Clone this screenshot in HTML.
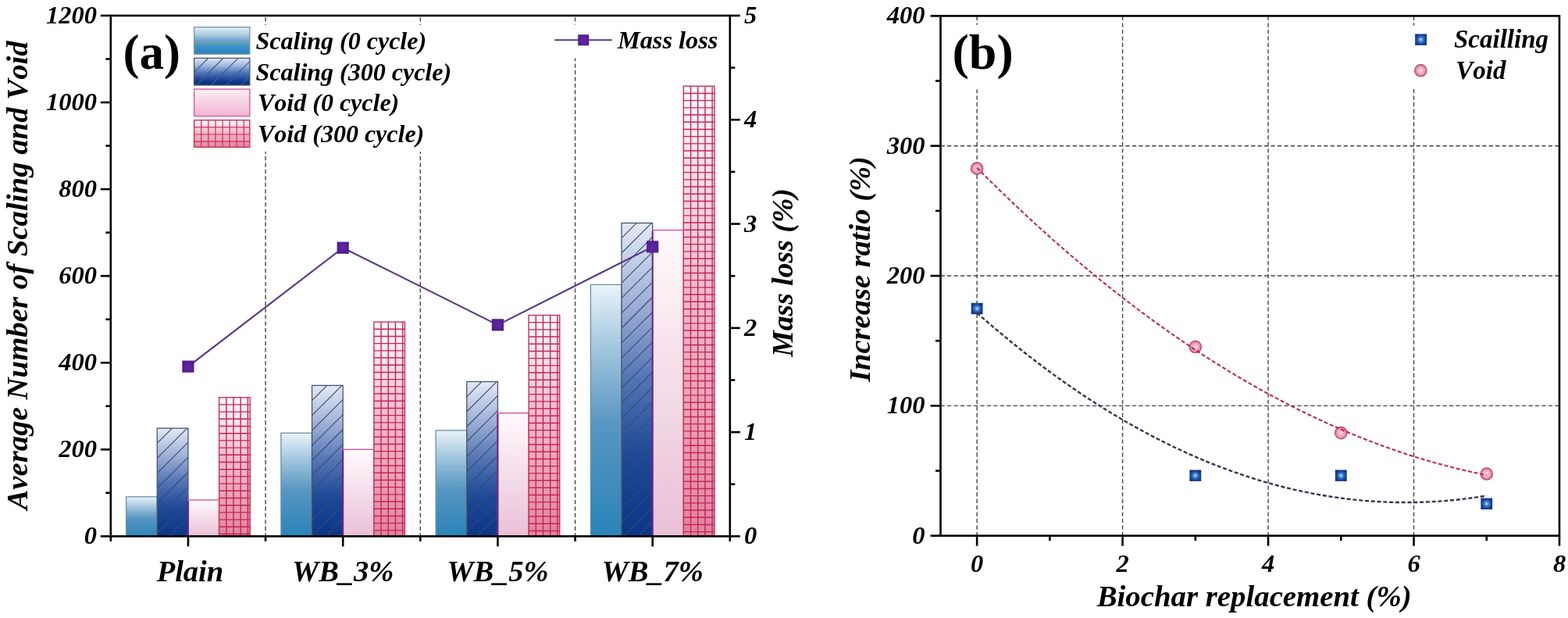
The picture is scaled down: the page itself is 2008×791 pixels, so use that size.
<!DOCTYPE html>
<html><head><meta charset="utf-8"><title>Figure</title>
<style>html,body{margin:0;padding:0;background:#fff;}svg{display:block;}text{font-kerning:none;}</style>
</head><body>
<svg width="2008" height="791" viewBox="0 0 2008 791">
<defs>
<linearGradient id="gS0" x1="0" y1="0" x2="0" y2="1">
<stop offset="0" stop-color="#eaf3fa"/><stop offset="0.25" stop-color="#a2c7de"/><stop offset="0.55" stop-color="#5896c2"/><stop offset="1" stop-color="#2a84b8"/></linearGradient>
<linearGradient id="gS0L" x1="0" y1="0" x2="0" y2="1">
<stop offset="0" stop-color="#e2f1fb"/><stop offset="0.3" stop-color="#a9c9dc"/><stop offset="0.5" stop-color="#6ea2d0"/><stop offset="0.62" stop-color="#5a9aa8"/><stop offset="0.72" stop-color="#3a93d0"/><stop offset="1" stop-color="#2a80b4"/></linearGradient>
<linearGradient id="gS3" x1="0" y1="0" x2="0" y2="1">
<stop offset="0" stop-color="#e4eaf5"/><stop offset="0.25" stop-color="#9fb1d8"/><stop offset="0.5" stop-color="#5274b4"/><stop offset="0.75" stop-color="#1c4897"/><stop offset="1" stop-color="#0a3686"/></linearGradient>
<linearGradient id="gS3L" x1="0" y1="0" x2="0" y2="1">
<stop offset="0" stop-color="#dfe8f6"/><stop offset="0.25" stop-color="#a8bde0"/><stop offset="0.55" stop-color="#4c74b6"/><stop offset="0.85" stop-color="#0e3c92"/><stop offset="1" stop-color="#062c6c"/></linearGradient>
<linearGradient id="gV0" x1="0" y1="0" x2="0" y2="1">
<stop offset="0" stop-color="#fffafc"/><stop offset="1" stop-color="#e9c0d6"/></linearGradient>
<linearGradient id="gV0L" x1="0" y1="0" x2="0" y2="1">
<stop offset="0" stop-color="#fdeef4"/><stop offset="1" stop-color="#f0b4d2"/></linearGradient>
<linearGradient id="gV3" x1="0" y1="0" x2="0" y2="1">
<stop offset="0" stop-color="#fef8fa"/><stop offset="0.2" stop-color="#f9dfe7"/><stop offset="0.45" stop-color="#f2bacb"/><stop offset="0.75" stop-color="#ea9fb4"/><stop offset="1" stop-color="#e2839f"/></linearGradient>
<radialGradient id="gSq" cx="0.5" cy="0.5" r="0.62">
<stop offset="0" stop-color="#d2ecff"/><stop offset="0.25" stop-color="#4d8ee0"/><stop offset="0.6" stop-color="#1a4aa0"/><stop offset="1" stop-color="#0a2a72"/></radialGradient>
<radialGradient id="gCi" cx="0.5" cy="0.5" r="0.5">
<stop offset="0" stop-color="#f6dbe4"/><stop offset="0.55" stop-color="#f0a8bf"/><stop offset="1" stop-color="#d76f93"/></radialGradient>
<radialGradient id="gML" cx="0.5" cy="0.5" r="0.6">
<stop offset="0" stop-color="#6428a6"/><stop offset="1" stop-color="#4e1c8a"/></radialGradient>
</defs>
<rect width="2008" height="791" fill="#ffffff"/>
<line x1="340.05" y1="22.3" x2="340.05" y2="686.4" stroke="#444" stroke-width="1.4" stroke-dasharray="5.3 3.16"/>
<line x1="538.30" y1="22.3" x2="538.30" y2="686.4" stroke="#444" stroke-width="1.4" stroke-dasharray="5.3 3.16"/>
<line x1="736.55" y1="22.3" x2="736.55" y2="686.4" stroke="#444" stroke-width="1.4" stroke-dasharray="5.3 3.16"/>
<rect x="161.62" y="635.86" width="39.65" height="50.54" fill="url(#gS0)" stroke="#6a90aa" stroke-width="1.3"/>
<rect x="201.28" y="548.12" width="39.65" height="138.28" fill="url(#gS3)"/>
<clipPath id="cS30"><rect x="201.28" y="548.12" width="39.65" height="138.28"/></clipPath>
<g clip-path="url(#cS30)" stroke="#3a4a72" stroke-width="1.1">
<line x1="206.28" y1="543.12" x2="53.00" y2="696.40"/>
<line x1="225.47" y1="543.12" x2="72.20" y2="696.40"/>
<line x1="244.68" y1="543.12" x2="91.40" y2="696.40"/>
<line x1="263.88" y1="543.12" x2="110.60" y2="696.40"/>
<line x1="283.07" y1="543.12" x2="129.80" y2="696.40"/>
<line x1="302.27" y1="543.12" x2="149.00" y2="696.40"/>
<line x1="321.48" y1="543.12" x2="168.20" y2="696.40"/>
<line x1="340.68" y1="543.12" x2="187.40" y2="696.40"/>
<line x1="359.88" y1="543.12" x2="206.60" y2="696.40"/>
<line x1="379.07" y1="543.12" x2="225.80" y2="696.40"/>
<line x1="398.27" y1="543.12" x2="245.00" y2="696.40"/>
</g>
<rect x="201.28" y="548.12" width="39.65" height="138.28" fill="none" stroke="#4b5466" stroke-width="1.3"/>
<rect x="240.93" y="639.97" width="39.65" height="46.43" fill="url(#gV0)" stroke="#d8489a" stroke-width="1.3"/>
<line x1="240.93" y1="640.97" x2="240.93" y2="686.4" stroke="#6e2284" stroke-width="2"/>
<rect x="280.58" y="508.69" width="39.65" height="177.71" fill="url(#gV3)"/>
<g stroke="#c42458" stroke-width="1.4">
<line x1="289.78" y1="508.69" x2="289.78" y2="686.4"/>
<line x1="298.98" y1="508.69" x2="298.98" y2="686.4"/>
<line x1="308.18" y1="508.69" x2="308.18" y2="686.4"/>
<line x1="317.38" y1="508.69" x2="317.38" y2="686.4"/>
<line x1="280.58" y1="517.89" x2="320.23" y2="517.89"/>
<line x1="280.58" y1="527.09" x2="320.23" y2="527.09"/>
<line x1="280.58" y1="536.29" x2="320.23" y2="536.29"/>
<line x1="280.58" y1="545.49" x2="320.23" y2="545.49"/>
<line x1="280.58" y1="554.69" x2="320.23" y2="554.69"/>
<line x1="280.58" y1="563.89" x2="320.23" y2="563.89"/>
<line x1="280.58" y1="573.09" x2="320.23" y2="573.09"/>
<line x1="280.58" y1="582.29" x2="320.23" y2="582.29"/>
<line x1="280.58" y1="591.49" x2="320.23" y2="591.49"/>
<line x1="280.58" y1="600.69" x2="320.23" y2="600.69"/>
<line x1="280.58" y1="609.89" x2="320.23" y2="609.89"/>
<line x1="280.58" y1="619.09" x2="320.23" y2="619.09"/>
<line x1="280.58" y1="628.29" x2="320.23" y2="628.29"/>
<line x1="280.58" y1="637.49" x2="320.23" y2="637.49"/>
<line x1="280.58" y1="646.69" x2="320.23" y2="646.69"/>
<line x1="280.58" y1="655.89" x2="320.23" y2="655.89"/>
<line x1="280.58" y1="665.09" x2="320.23" y2="665.09"/>
<line x1="280.58" y1="674.29" x2="320.23" y2="674.29"/>
<line x1="280.58" y1="683.49" x2="320.23" y2="683.49"/>
</g>
<rect x="280.58" y="508.69" width="39.65" height="177.71" fill="none" stroke="#c8305c" stroke-width="1.4"/>
<rect x="359.88" y="554.23" width="39.65" height="132.17" fill="url(#gS0)" stroke="#6a90aa" stroke-width="1.3"/>
<rect x="399.52" y="493.37" width="39.65" height="193.03" fill="url(#gS3)"/>
<clipPath id="cS31"><rect x="399.52" y="493.37" width="39.65" height="193.03"/></clipPath>
<g clip-path="url(#cS31)" stroke="#3a4a72" stroke-width="1.1">
<line x1="404.52" y1="488.37" x2="196.49" y2="696.40"/>
<line x1="423.72" y1="488.37" x2="215.69" y2="696.40"/>
<line x1="442.92" y1="488.37" x2="234.89" y2="696.40"/>
<line x1="462.12" y1="488.37" x2="254.09" y2="696.40"/>
<line x1="481.32" y1="488.37" x2="273.29" y2="696.40"/>
<line x1="500.52" y1="488.37" x2="292.49" y2="696.40"/>
<line x1="519.72" y1="488.37" x2="311.69" y2="696.40"/>
<line x1="538.92" y1="488.37" x2="330.89" y2="696.40"/>
<line x1="558.12" y1="488.37" x2="350.09" y2="696.40"/>
<line x1="577.32" y1="488.37" x2="369.29" y2="696.40"/>
<line x1="596.52" y1="488.37" x2="388.49" y2="696.40"/>
<line x1="615.72" y1="488.37" x2="407.69" y2="696.40"/>
<line x1="634.92" y1="488.37" x2="426.89" y2="696.40"/>
<line x1="654.12" y1="488.37" x2="446.09" y2="696.40"/>
</g>
<rect x="399.52" y="493.37" width="39.65" height="193.03" fill="none" stroke="#4b5466" stroke-width="1.3"/>
<rect x="439.18" y="575.33" width="39.65" height="111.07" fill="url(#gV0)" stroke="#d8489a" stroke-width="1.3"/>
<line x1="439.18" y1="576.33" x2="439.18" y2="686.4" stroke="#6e2284" stroke-width="2"/>
<rect x="478.83" y="412.07" width="39.65" height="274.33" fill="url(#gV3)"/>
<g stroke="#c42458" stroke-width="1.4">
<line x1="488.03" y1="412.07" x2="488.03" y2="686.4"/>
<line x1="497.23" y1="412.07" x2="497.23" y2="686.4"/>
<line x1="506.43" y1="412.07" x2="506.43" y2="686.4"/>
<line x1="515.62" y1="412.07" x2="515.62" y2="686.4"/>
<line x1="478.83" y1="421.27" x2="518.48" y2="421.27"/>
<line x1="478.83" y1="430.47" x2="518.48" y2="430.47"/>
<line x1="478.83" y1="439.67" x2="518.48" y2="439.67"/>
<line x1="478.83" y1="448.87" x2="518.48" y2="448.87"/>
<line x1="478.83" y1="458.07" x2="518.48" y2="458.07"/>
<line x1="478.83" y1="467.27" x2="518.48" y2="467.27"/>
<line x1="478.83" y1="476.47" x2="518.48" y2="476.47"/>
<line x1="478.83" y1="485.67" x2="518.48" y2="485.67"/>
<line x1="478.83" y1="494.87" x2="518.48" y2="494.87"/>
<line x1="478.83" y1="504.07" x2="518.48" y2="504.07"/>
<line x1="478.83" y1="513.27" x2="518.48" y2="513.27"/>
<line x1="478.83" y1="522.47" x2="518.48" y2="522.47"/>
<line x1="478.83" y1="531.67" x2="518.48" y2="531.67"/>
<line x1="478.83" y1="540.87" x2="518.48" y2="540.87"/>
<line x1="478.83" y1="550.07" x2="518.48" y2="550.07"/>
<line x1="478.83" y1="559.27" x2="518.48" y2="559.27"/>
<line x1="478.83" y1="568.47" x2="518.48" y2="568.47"/>
<line x1="478.83" y1="577.67" x2="518.48" y2="577.67"/>
<line x1="478.83" y1="586.87" x2="518.48" y2="586.87"/>
<line x1="478.83" y1="596.07" x2="518.48" y2="596.07"/>
<line x1="478.83" y1="605.27" x2="518.48" y2="605.27"/>
<line x1="478.83" y1="614.47" x2="518.48" y2="614.47"/>
<line x1="478.83" y1="623.67" x2="518.48" y2="623.67"/>
<line x1="478.83" y1="632.87" x2="518.48" y2="632.87"/>
<line x1="478.83" y1="642.07" x2="518.48" y2="642.07"/>
<line x1="478.83" y1="651.27" x2="518.48" y2="651.27"/>
<line x1="478.83" y1="660.47" x2="518.48" y2="660.47"/>
<line x1="478.83" y1="669.67" x2="518.48" y2="669.67"/>
<line x1="478.83" y1="678.87" x2="518.48" y2="678.87"/>
</g>
<rect x="478.83" y="412.07" width="39.65" height="274.33" fill="none" stroke="#c8305c" stroke-width="1.4"/>
<rect x="558.12" y="550.90" width="39.65" height="135.50" fill="url(#gS0)" stroke="#6a90aa" stroke-width="1.3"/>
<rect x="597.77" y="488.48" width="39.65" height="197.92" fill="url(#gS3)"/>
<clipPath id="cS32"><rect x="597.77" y="488.48" width="39.65" height="197.92"/></clipPath>
<g clip-path="url(#cS32)" stroke="#3a4a72" stroke-width="1.1">
<line x1="602.77" y1="483.48" x2="389.85" y2="696.40"/>
<line x1="621.98" y1="483.48" x2="409.05" y2="696.40"/>
<line x1="641.17" y1="483.48" x2="428.25" y2="696.40"/>
<line x1="660.38" y1="483.48" x2="447.45" y2="696.40"/>
<line x1="679.57" y1="483.48" x2="466.65" y2="696.40"/>
<line x1="698.77" y1="483.48" x2="485.85" y2="696.40"/>
<line x1="717.97" y1="483.48" x2="505.05" y2="696.40"/>
<line x1="737.17" y1="483.48" x2="524.25" y2="696.40"/>
<line x1="756.38" y1="483.48" x2="543.45" y2="696.40"/>
<line x1="775.57" y1="483.48" x2="562.65" y2="696.40"/>
<line x1="794.77" y1="483.48" x2="581.85" y2="696.40"/>
<line x1="813.97" y1="483.48" x2="601.05" y2="696.40"/>
<line x1="833.17" y1="483.48" x2="620.25" y2="696.40"/>
<line x1="852.38" y1="483.48" x2="639.45" y2="696.40"/>
</g>
<rect x="597.77" y="488.48" width="39.65" height="197.92" fill="none" stroke="#4b5466" stroke-width="1.3"/>
<rect x="637.42" y="528.69" width="39.65" height="157.71" fill="url(#gV0)" stroke="#d8489a" stroke-width="1.3"/>
<line x1="637.42" y1="529.69" x2="637.42" y2="686.4" stroke="#6e2284" stroke-width="2"/>
<rect x="677.08" y="403.46" width="39.65" height="282.94" fill="url(#gV3)"/>
<g stroke="#c42458" stroke-width="1.4">
<line x1="686.28" y1="403.46" x2="686.28" y2="686.4"/>
<line x1="695.48" y1="403.46" x2="695.48" y2="686.4"/>
<line x1="704.68" y1="403.46" x2="704.68" y2="686.4"/>
<line x1="713.88" y1="403.46" x2="713.88" y2="686.4"/>
<line x1="677.08" y1="412.66" x2="716.73" y2="412.66"/>
<line x1="677.08" y1="421.86" x2="716.73" y2="421.86"/>
<line x1="677.08" y1="431.06" x2="716.73" y2="431.06"/>
<line x1="677.08" y1="440.26" x2="716.73" y2="440.26"/>
<line x1="677.08" y1="449.46" x2="716.73" y2="449.46"/>
<line x1="677.08" y1="458.66" x2="716.73" y2="458.66"/>
<line x1="677.08" y1="467.86" x2="716.73" y2="467.86"/>
<line x1="677.08" y1="477.06" x2="716.73" y2="477.06"/>
<line x1="677.08" y1="486.26" x2="716.73" y2="486.26"/>
<line x1="677.08" y1="495.46" x2="716.73" y2="495.46"/>
<line x1="677.08" y1="504.66" x2="716.73" y2="504.66"/>
<line x1="677.08" y1="513.86" x2="716.73" y2="513.86"/>
<line x1="677.08" y1="523.06" x2="716.73" y2="523.06"/>
<line x1="677.08" y1="532.26" x2="716.73" y2="532.26"/>
<line x1="677.08" y1="541.46" x2="716.73" y2="541.46"/>
<line x1="677.08" y1="550.66" x2="716.73" y2="550.66"/>
<line x1="677.08" y1="559.86" x2="716.73" y2="559.86"/>
<line x1="677.08" y1="569.06" x2="716.73" y2="569.06"/>
<line x1="677.08" y1="578.26" x2="716.73" y2="578.26"/>
<line x1="677.08" y1="587.46" x2="716.73" y2="587.46"/>
<line x1="677.08" y1="596.66" x2="716.73" y2="596.66"/>
<line x1="677.08" y1="605.86" x2="716.73" y2="605.86"/>
<line x1="677.08" y1="615.06" x2="716.73" y2="615.06"/>
<line x1="677.08" y1="624.26" x2="716.73" y2="624.26"/>
<line x1="677.08" y1="633.46" x2="716.73" y2="633.46"/>
<line x1="677.08" y1="642.66" x2="716.73" y2="642.66"/>
<line x1="677.08" y1="651.86" x2="716.73" y2="651.86"/>
<line x1="677.08" y1="661.06" x2="716.73" y2="661.06"/>
<line x1="677.08" y1="670.26" x2="716.73" y2="670.26"/>
<line x1="677.08" y1="679.46" x2="716.73" y2="679.46"/>
</g>
<rect x="677.08" y="403.46" width="39.65" height="282.94" fill="none" stroke="#c8305c" stroke-width="1.4"/>
<rect x="756.38" y="364.31" width="39.65" height="322.09" fill="url(#gS0)" stroke="#6a90aa" stroke-width="1.3"/>
<rect x="796.02" y="285.45" width="39.65" height="400.95" fill="url(#gS3)"/>
<clipPath id="cS33"><rect x="796.02" y="285.45" width="39.65" height="400.95"/></clipPath>
<g clip-path="url(#cS33)" stroke="#3a4a72" stroke-width="1.1">
<line x1="801.02" y1="280.45" x2="385.07" y2="696.40"/>
<line x1="820.23" y1="280.45" x2="404.27" y2="696.40"/>
<line x1="839.42" y1="280.45" x2="423.47" y2="696.40"/>
<line x1="858.62" y1="280.45" x2="442.67" y2="696.40"/>
<line x1="877.82" y1="280.45" x2="461.87" y2="696.40"/>
<line x1="897.02" y1="280.45" x2="481.07" y2="696.40"/>
<line x1="916.22" y1="280.45" x2="500.27" y2="696.40"/>
<line x1="935.42" y1="280.45" x2="519.47" y2="696.40"/>
<line x1="954.62" y1="280.45" x2="538.67" y2="696.40"/>
<line x1="973.82" y1="280.45" x2="557.87" y2="696.40"/>
<line x1="993.02" y1="280.45" x2="577.07" y2="696.40"/>
<line x1="1012.22" y1="280.45" x2="596.27" y2="696.40"/>
<line x1="1031.42" y1="280.45" x2="615.47" y2="696.40"/>
<line x1="1050.62" y1="280.45" x2="634.67" y2="696.40"/>
<line x1="1069.83" y1="280.45" x2="653.87" y2="696.40"/>
<line x1="1089.03" y1="280.45" x2="673.07" y2="696.40"/>
<line x1="1108.22" y1="280.45" x2="692.27" y2="696.40"/>
<line x1="1127.42" y1="280.45" x2="711.47" y2="696.40"/>
<line x1="1146.62" y1="280.45" x2="730.67" y2="696.40"/>
<line x1="1165.83" y1="280.45" x2="749.87" y2="696.40"/>
<line x1="1185.03" y1="280.45" x2="769.07" y2="696.40"/>
<line x1="1204.22" y1="280.45" x2="788.27" y2="696.40"/>
<line x1="1223.42" y1="280.45" x2="807.47" y2="696.40"/>
<line x1="1242.62" y1="280.45" x2="826.67" y2="696.40"/>
</g>
<rect x="796.02" y="285.45" width="39.65" height="400.95" fill="none" stroke="#4b5466" stroke-width="1.3"/>
<rect x="835.67" y="294.61" width="39.65" height="391.79" fill="url(#gV0)" stroke="#d8489a" stroke-width="1.3"/>
<line x1="835.67" y1="295.61" x2="835.67" y2="686.4" stroke="#6e2284" stroke-width="2"/>
<rect x="875.33" y="110.24" width="39.65" height="576.16" fill="url(#gV3)"/>
<g stroke="#c42458" stroke-width="1.4">
<line x1="884.53" y1="110.24" x2="884.53" y2="686.4"/>
<line x1="893.73" y1="110.24" x2="893.73" y2="686.4"/>
<line x1="902.93" y1="110.24" x2="902.93" y2="686.4"/>
<line x1="912.13" y1="110.24" x2="912.13" y2="686.4"/>
<line x1="875.33" y1="119.44" x2="914.98" y2="119.44"/>
<line x1="875.33" y1="128.64" x2="914.98" y2="128.64"/>
<line x1="875.33" y1="137.84" x2="914.98" y2="137.84"/>
<line x1="875.33" y1="147.04" x2="914.98" y2="147.04"/>
<line x1="875.33" y1="156.24" x2="914.98" y2="156.24"/>
<line x1="875.33" y1="165.44" x2="914.98" y2="165.44"/>
<line x1="875.33" y1="174.64" x2="914.98" y2="174.64"/>
<line x1="875.33" y1="183.84" x2="914.98" y2="183.84"/>
<line x1="875.33" y1="193.04" x2="914.98" y2="193.04"/>
<line x1="875.33" y1="202.24" x2="914.98" y2="202.24"/>
<line x1="875.33" y1="211.44" x2="914.98" y2="211.44"/>
<line x1="875.33" y1="220.64" x2="914.98" y2="220.64"/>
<line x1="875.33" y1="229.84" x2="914.98" y2="229.84"/>
<line x1="875.33" y1="239.04" x2="914.98" y2="239.04"/>
<line x1="875.33" y1="248.24" x2="914.98" y2="248.24"/>
<line x1="875.33" y1="257.44" x2="914.98" y2="257.44"/>
<line x1="875.33" y1="266.64" x2="914.98" y2="266.64"/>
<line x1="875.33" y1="275.84" x2="914.98" y2="275.84"/>
<line x1="875.33" y1="285.04" x2="914.98" y2="285.04"/>
<line x1="875.33" y1="294.24" x2="914.98" y2="294.24"/>
<line x1="875.33" y1="303.44" x2="914.98" y2="303.44"/>
<line x1="875.33" y1="312.64" x2="914.98" y2="312.64"/>
<line x1="875.33" y1="321.84" x2="914.98" y2="321.84"/>
<line x1="875.33" y1="331.04" x2="914.98" y2="331.04"/>
<line x1="875.33" y1="340.24" x2="914.98" y2="340.24"/>
<line x1="875.33" y1="349.44" x2="914.98" y2="349.44"/>
<line x1="875.33" y1="358.64" x2="914.98" y2="358.64"/>
<line x1="875.33" y1="367.84" x2="914.98" y2="367.84"/>
<line x1="875.33" y1="377.04" x2="914.98" y2="377.04"/>
<line x1="875.33" y1="386.24" x2="914.98" y2="386.24"/>
<line x1="875.33" y1="395.44" x2="914.98" y2="395.44"/>
<line x1="875.33" y1="404.64" x2="914.98" y2="404.64"/>
<line x1="875.33" y1="413.84" x2="914.98" y2="413.84"/>
<line x1="875.33" y1="423.04" x2="914.98" y2="423.04"/>
<line x1="875.33" y1="432.24" x2="914.98" y2="432.24"/>
<line x1="875.33" y1="441.44" x2="914.98" y2="441.44"/>
<line x1="875.33" y1="450.64" x2="914.98" y2="450.64"/>
<line x1="875.33" y1="459.84" x2="914.98" y2="459.84"/>
<line x1="875.33" y1="469.04" x2="914.98" y2="469.04"/>
<line x1="875.33" y1="478.24" x2="914.98" y2="478.24"/>
<line x1="875.33" y1="487.44" x2="914.98" y2="487.44"/>
<line x1="875.33" y1="496.64" x2="914.98" y2="496.64"/>
<line x1="875.33" y1="505.84" x2="914.98" y2="505.84"/>
<line x1="875.33" y1="515.04" x2="914.98" y2="515.04"/>
<line x1="875.33" y1="524.24" x2="914.98" y2="524.24"/>
<line x1="875.33" y1="533.44" x2="914.98" y2="533.44"/>
<line x1="875.33" y1="542.64" x2="914.98" y2="542.64"/>
<line x1="875.33" y1="551.84" x2="914.98" y2="551.84"/>
<line x1="875.33" y1="561.04" x2="914.98" y2="561.04"/>
<line x1="875.33" y1="570.24" x2="914.98" y2="570.24"/>
<line x1="875.33" y1="579.44" x2="914.98" y2="579.44"/>
<line x1="875.33" y1="588.64" x2="914.98" y2="588.64"/>
<line x1="875.33" y1="597.84" x2="914.98" y2="597.84"/>
<line x1="875.33" y1="607.04" x2="914.98" y2="607.04"/>
<line x1="875.33" y1="616.24" x2="914.98" y2="616.24"/>
<line x1="875.33" y1="625.44" x2="914.98" y2="625.44"/>
<line x1="875.33" y1="634.64" x2="914.98" y2="634.64"/>
<line x1="875.33" y1="643.84" x2="914.98" y2="643.84"/>
<line x1="875.33" y1="653.04" x2="914.98" y2="653.04"/>
<line x1="875.33" y1="662.24" x2="914.98" y2="662.24"/>
<line x1="875.33" y1="671.44" x2="914.98" y2="671.44"/>
<line x1="875.33" y1="680.64" x2="914.98" y2="680.64"/>
</g>
<rect x="875.33" y="110.24" width="39.65" height="576.16" fill="none" stroke="#c8305c" stroke-width="1.4"/>
<polyline points="240.93,469.15 439.18,317.21 637.42,415.84 835.67,315.88" fill="none" stroke="#573686" stroke-width="2.1"/>
<rect x="233.33" y="461.55" width="15.2" height="15.2" fill="url(#gML)"/>
<rect x="431.57" y="309.61" width="15.2" height="15.2" fill="url(#gML)"/>
<rect x="629.82" y="408.24" width="15.2" height="15.2" fill="url(#gML)"/>
<rect x="828.07" y="308.28" width="15.2" height="15.2" fill="url(#gML)"/>
<rect x="245" y="32" width="340" height="162" fill="#fff"/>
<rect x="700" y="31.5" width="225" height="43" fill="#fff"/>
<rect x="248.6" y="34.70" width="71.2" height="34.6" fill="url(#gS0L)" stroke="#7f98ab" stroke-width="1.4"/>
<text x="327.5" y="62.90" font-size="32" font-family="Liberation Serif, Times New Roman, serif" font-weight="bold" font-style="italic">Scaling (0 cycle)</text>
<rect x="248.6" y="74.40" width="71.2" height="34.6" fill="url(#gS3L)"/>
<clipPath id="cL1"><rect x="248.6" y="74.40" width="71.2" height="34.6"/></clipPath>
<g clip-path="url(#cL1)" stroke="#4a5a84" stroke-width="1.2">
<line x1="252.70" y1="69.40" x2="203.10" y2="119.00"/>
<line x1="271.80" y1="69.40" x2="222.20" y2="119.00"/>
<line x1="290.90" y1="69.40" x2="241.30" y2="119.00"/>
<line x1="310.00" y1="69.40" x2="260.40" y2="119.00"/>
<line x1="329.10" y1="69.40" x2="279.50" y2="119.00"/>
<line x1="348.20" y1="69.40" x2="298.60" y2="119.00"/>
<line x1="367.30" y1="69.40" x2="317.70" y2="119.00"/>
<line x1="386.40" y1="69.40" x2="336.80" y2="119.00"/>
</g>
<rect x="248.6" y="74.40" width="71.2" height="34.6" fill="none" stroke="#4b5466" stroke-width="1.3"/>
<text x="327.5" y="102.50" font-size="32" font-family="Liberation Serif, Times New Roman, serif" font-weight="bold" font-style="italic">Scaling (300 cycle)</text>
<rect x="248.6" y="114.10" width="71.2" height="34.6" fill="url(#gV0L)" stroke="#d4609a" stroke-width="1.4"/>
<text x="330.0" y="142.10" font-size="32" font-family="Liberation Serif, Times New Roman, serif" font-weight="bold" font-style="italic">Void (0 cycle)</text>
<rect x="248.6" y="153.80" width="71.2" height="34.6" fill="url(#gV3)"/>
<g stroke="#cf2c5c" stroke-width="1.2">
<line x1="257.70" y1="153.80" x2="257.70" y2="188.40"/>
<line x1="266.80" y1="153.80" x2="266.80" y2="188.40"/>
<line x1="275.90" y1="153.80" x2="275.90" y2="188.40"/>
<line x1="285.00" y1="153.80" x2="285.00" y2="188.40"/>
<line x1="294.10" y1="153.80" x2="294.10" y2="188.40"/>
<line x1="303.20" y1="153.80" x2="303.20" y2="188.40"/>
<line x1="312.30" y1="153.80" x2="312.30" y2="188.40"/>
<line x1="248.6" y1="162.90" x2="319.80" y2="162.90"/>
<line x1="248.6" y1="172.00" x2="319.80" y2="172.00"/>
<line x1="248.6" y1="181.10" x2="319.80" y2="181.10"/>
</g>
<rect x="248.6" y="153.80" width="71.2" height="34.6" fill="none" stroke="#c8305c" stroke-width="1.4"/>
<text x="330.0" y="181.70" font-size="32" font-family="Liberation Serif, Times New Roman, serif" font-weight="bold" font-style="italic">Void (300 cycle)</text>
<line x1="710.2" y1="51.3" x2="783.8" y2="51.3" stroke="#573686" stroke-width="2.1"/>
<rect x="740.2" y="44.3" width="14" height="14" fill="url(#gML)"/>
<text x="791" y="61.8" font-size="32.3" font-family="Liberation Serif, Times New Roman, serif" font-weight="bold" font-style="italic">Mass loss</text>
<text x="157.5" y="87.6" font-size="63" font-family="Liberation Serif, Times New Roman, serif" font-weight="bold">(a)</text>
<rect x="141.8" y="20.0" width="793.0" height="666.4" stroke="#000" stroke-width="2.6" fill="none"/>
<line x1="128.80" y1="686.40" x2="141.8" y2="686.40" stroke="#000" stroke-width="2.6" fill="none"/>
<text x="124" y="696.40" font-size="32.5" text-anchor="end" font-family="Liberation Serif, Times New Roman, serif" font-weight="bold" font-style="italic">0</text>
<line x1="135.30" y1="630.87" x2="141.8" y2="630.87" stroke="#000" stroke-width="2.6" fill="none"/>
<line x1="128.80" y1="575.33" x2="141.8" y2="575.33" stroke="#000" stroke-width="2.6" fill="none"/>
<text x="124" y="585.33" font-size="32.5" text-anchor="end" font-family="Liberation Serif, Times New Roman, serif" font-weight="bold" font-style="italic">200</text>
<line x1="135.30" y1="519.80" x2="141.8" y2="519.80" stroke="#000" stroke-width="2.6" fill="none"/>
<line x1="128.80" y1="464.27" x2="141.8" y2="464.27" stroke="#000" stroke-width="2.6" fill="none"/>
<text x="124" y="474.27" font-size="32.5" text-anchor="end" font-family="Liberation Serif, Times New Roman, serif" font-weight="bold" font-style="italic">400</text>
<line x1="135.30" y1="408.73" x2="141.8" y2="408.73" stroke="#000" stroke-width="2.6" fill="none"/>
<line x1="128.80" y1="353.20" x2="141.8" y2="353.20" stroke="#000" stroke-width="2.6" fill="none"/>
<text x="124" y="363.20" font-size="32.5" text-anchor="end" font-family="Liberation Serif, Times New Roman, serif" font-weight="bold" font-style="italic">600</text>
<line x1="135.30" y1="297.67" x2="141.8" y2="297.67" stroke="#000" stroke-width="2.6" fill="none"/>
<line x1="128.80" y1="242.13" x2="141.8" y2="242.13" stroke="#000" stroke-width="2.6" fill="none"/>
<text x="124" y="252.13" font-size="32.5" text-anchor="end" font-family="Liberation Serif, Times New Roman, serif" font-weight="bold" font-style="italic">800</text>
<line x1="135.30" y1="186.60" x2="141.8" y2="186.60" stroke="#000" stroke-width="2.6" fill="none"/>
<line x1="128.80" y1="131.07" x2="141.8" y2="131.07" stroke="#000" stroke-width="2.6" fill="none"/>
<text x="124" y="141.07" font-size="32.5" text-anchor="end" font-family="Liberation Serif, Times New Roman, serif" font-weight="bold" font-style="italic">1000</text>
<line x1="135.30" y1="75.53" x2="141.8" y2="75.53" stroke="#000" stroke-width="2.6" fill="none"/>
<line x1="128.80" y1="20.00" x2="141.8" y2="20.00" stroke="#000" stroke-width="2.6" fill="none"/>
<text x="124" y="30.00" font-size="32.5" text-anchor="end" font-family="Liberation Serif, Times New Roman, serif" font-weight="bold" font-style="italic">1200</text>
<line x1="934.8" y1="686.40" x2="947.80" y2="686.40" stroke="#000" stroke-width="2.6" fill="none"/>
<text x="953" y="696.40" font-size="32.5" font-family="Liberation Serif, Times New Roman, serif" font-weight="bold" font-style="italic">0</text>
<line x1="934.8" y1="619.76" x2="941.30" y2="619.76" stroke="#000" stroke-width="2.6" fill="none"/>
<line x1="934.8" y1="553.12" x2="947.80" y2="553.12" stroke="#000" stroke-width="2.6" fill="none"/>
<text x="953" y="563.12" font-size="32.5" font-family="Liberation Serif, Times New Roman, serif" font-weight="bold" font-style="italic">1</text>
<line x1="934.8" y1="486.48" x2="941.30" y2="486.48" stroke="#000" stroke-width="2.6" fill="none"/>
<line x1="934.8" y1="419.84" x2="947.80" y2="419.84" stroke="#000" stroke-width="2.6" fill="none"/>
<text x="953" y="429.84" font-size="32.5" font-family="Liberation Serif, Times New Roman, serif" font-weight="bold" font-style="italic">2</text>
<line x1="934.8" y1="353.20" x2="941.30" y2="353.20" stroke="#000" stroke-width="2.6" fill="none"/>
<line x1="934.8" y1="286.56" x2="947.80" y2="286.56" stroke="#000" stroke-width="2.6" fill="none"/>
<text x="953" y="296.56" font-size="32.5" font-family="Liberation Serif, Times New Roman, serif" font-weight="bold" font-style="italic">3</text>
<line x1="934.8" y1="219.92" x2="941.30" y2="219.92" stroke="#000" stroke-width="2.6" fill="none"/>
<line x1="934.8" y1="153.28" x2="947.80" y2="153.28" stroke="#000" stroke-width="2.6" fill="none"/>
<text x="953" y="163.28" font-size="32.5" font-family="Liberation Serif, Times New Roman, serif" font-weight="bold" font-style="italic">4</text>
<line x1="934.8" y1="86.64" x2="941.30" y2="86.64" stroke="#000" stroke-width="2.6" fill="none"/>
<line x1="934.8" y1="20.00" x2="947.80" y2="20.00" stroke="#000" stroke-width="2.6" fill="none"/>
<text x="953" y="30.00" font-size="32.5" font-family="Liberation Serif, Times New Roman, serif" font-weight="bold" font-style="italic">5</text>
<line x1="141.80" y1="686.4" x2="141.80" y2="692.90" stroke="#000" stroke-width="2.6" fill="none"/>
<line x1="240.93" y1="686.4" x2="240.93" y2="699.40" stroke="#000" stroke-width="2.6" fill="none"/>
<line x1="340.05" y1="686.4" x2="340.05" y2="692.90" stroke="#000" stroke-width="2.6" fill="none"/>
<line x1="439.18" y1="686.4" x2="439.18" y2="699.40" stroke="#000" stroke-width="2.6" fill="none"/>
<line x1="538.30" y1="686.4" x2="538.30" y2="692.90" stroke="#000" stroke-width="2.6" fill="none"/>
<line x1="637.42" y1="686.4" x2="637.42" y2="699.40" stroke="#000" stroke-width="2.6" fill="none"/>
<line x1="736.55" y1="686.4" x2="736.55" y2="692.90" stroke="#000" stroke-width="2.6" fill="none"/>
<line x1="835.67" y1="686.4" x2="835.67" y2="699.40" stroke="#000" stroke-width="2.6" fill="none"/>
<line x1="934.80" y1="686.4" x2="934.80" y2="692.90" stroke="#000" stroke-width="2.6" fill="none"/>
<text x="243.43" y="744" font-size="38.5" text-anchor="middle" font-family="Liberation Serif, Times New Roman, serif" font-weight="bold" font-style="italic">Plain</text>
<text x="439.18" y="744" font-size="38.5" text-anchor="middle" font-family="Liberation Serif, Times New Roman, serif" font-weight="bold" font-style="italic">WB_3%</text>
<text x="637.42" y="744" font-size="38.5" text-anchor="middle" font-family="Liberation Serif, Times New Roman, serif" font-weight="bold" font-style="italic">WB_5%</text>
<text x="835.67" y="744" font-size="38.5" text-anchor="middle" font-family="Liberation Serif, Times New Roman, serif" font-weight="bold" font-style="italic">WB_7%</text>
<text transform="translate(35,352.4) rotate(-90)" font-size="38.8" text-anchor="middle" font-family="Liberation Serif, Times New Roman, serif" font-weight="bold" font-style="italic">Average Number of Scaling and Void</text>
<text transform="translate(1014.5,349) rotate(-90)" font-size="37.7" text-anchor="middle" font-family="Liberation Serif, Times New Roman, serif" font-weight="bold" font-style="italic">Mass loss (%)</text>
<line x1="1251.12" y1="21.0" x2="1251.12" y2="685.7" stroke="#444" stroke-width="1.4" stroke-dasharray="5.3 3.16"/>
<line x1="1437.59" y1="21.0" x2="1437.59" y2="685.7" stroke="#444" stroke-width="1.4" stroke-dasharray="5.3 3.16"/>
<line x1="1624.06" y1="21.0" x2="1624.06" y2="685.7" stroke="#444" stroke-width="1.4" stroke-dasharray="5.3 3.16"/>
<line x1="1810.53" y1="21.0" x2="1810.53" y2="685.7" stroke="#444" stroke-width="1.4" stroke-dasharray="5.3 3.16"/>
<line x1="1204.5" y1="519.38" x2="1997.0" y2="519.38" stroke="#444" stroke-width="1.4" stroke-dasharray="5.3 3.16"/>
<line x1="1204.5" y1="353.05" x2="1997.0" y2="353.05" stroke="#444" stroke-width="1.4" stroke-dasharray="5.3 3.16"/>
<line x1="1204.5" y1="186.72" x2="1997.0" y2="186.72" stroke="#444" stroke-width="1.4" stroke-dasharray="5.3 3.16"/>
<rect x="1795" y="32.7" width="195" height="81.5" fill="#fff"/>
<rect x="1243.72" y="387.76" width="14.8" height="14.4" fill="url(#gSq)"/>
<rect x="1523.42" y="601.49" width="14.8" height="14.4" fill="url(#gSq)"/>
<rect x="1709.89" y="601.49" width="14.8" height="14.4" fill="url(#gSq)"/>
<rect x="1896.36" y="637.58" width="14.8" height="14.4" fill="url(#gSq)"/>
<circle cx="1251.12" cy="215.67" r="7.7" fill="url(#gCi)" stroke="#b4466e" stroke-width="1.2"/>
<circle cx="1530.82" cy="444.03" r="7.7" fill="url(#gCi)" stroke="#b4466e" stroke-width="1.2"/>
<circle cx="1717.29" cy="554.14" r="7.7" fill="url(#gCi)" stroke="#b4466e" stroke-width="1.2"/>
<circle cx="1903.76" cy="606.53" r="7.7" fill="url(#gCi)" stroke="#b4466e" stroke-width="1.2"/>
<path d="M1251.12,400.46 L1259.38,407.70 L1267.64,414.84 L1275.90,421.86 L1284.16,428.78 L1292.42,435.58 L1300.69,442.28 L1308.95,448.86 L1317.21,455.34 L1325.47,461.70 L1333.73,467.96 L1341.99,474.10 L1350.25,480.14 L1358.52,486.07 L1366.78,491.88 L1375.04,497.59 L1383.30,503.19 L1391.56,508.68 L1399.82,514.05 L1408.08,519.32 L1416.34,524.48 L1424.61,529.53 L1432.87,534.47 L1441.13,539.30 L1449.39,544.01 L1457.65,548.62 L1465.91,553.12 L1474.17,557.51 L1482.44,561.79 L1490.70,565.96 L1498.96,570.02 L1507.22,573.97 L1515.48,577.81 L1523.74,581.54 L1532.00,585.17 L1540.27,588.68 L1548.53,592.08 L1556.79,595.37 L1565.05,598.55 L1573.31,601.62 L1581.57,604.59 L1589.83,607.44 L1598.09,610.18 L1606.36,612.81 L1614.62,615.34 L1622.88,617.75 L1631.14,620.05 L1639.40,622.25 L1647.66,624.33 L1655.92,626.31 L1664.19,628.17 L1672.45,629.93 L1680.71,631.57 L1688.97,633.11 L1697.23,634.53 L1705.49,635.85 L1713.75,637.05 L1722.01,638.15 L1730.28,639.13 L1738.54,640.01 L1746.80,640.78 L1755.06,641.43 L1763.32,641.98 L1771.58,642.42 L1779.84,642.75 L1788.11,642.96 L1796.37,643.07 L1804.63,643.07 L1812.89,642.96 L1821.15,642.74 L1829.41,642.40 L1837.67,641.96 L1845.94,641.41 L1854.20,640.75 L1862.46,639.98 L1870.72,639.10 L1878.98,638.11 L1887.24,637.01 L1895.50,635.80 L1903.76,634.48" fill="none" stroke="#33384c" stroke-width="2.4" stroke-dasharray="5 2.8"/>
<path d="M1251.12,214.79 L1259.38,223.06 L1267.64,231.24 L1275.90,239.35 L1284.16,247.36 L1292.42,255.30 L1300.69,263.15 L1308.95,270.91 L1317.21,278.59 L1325.47,286.19 L1333.73,293.70 L1341.99,301.12 L1350.25,308.47 L1358.52,315.73 L1366.78,322.90 L1375.04,329.99 L1383.30,336.99 L1391.56,343.91 L1399.82,350.75 L1408.08,357.50 L1416.34,364.17 L1424.61,370.75 L1432.87,377.25 L1441.13,383.67 L1449.39,390.00 L1457.65,396.24 L1465.91,402.40 L1474.17,408.48 L1482.44,414.47 L1490.70,420.38 L1498.96,426.20 L1507.22,431.94 L1515.48,437.60 L1523.74,443.17 L1532.00,448.65 L1540.27,454.05 L1548.53,459.37 L1556.79,464.60 L1565.05,469.75 L1573.31,474.82 L1581.57,479.80 L1589.83,484.69 L1598.09,489.50 L1606.36,494.23 L1614.62,498.87 L1622.88,503.43 L1631.14,507.90 L1639.40,512.29 L1647.66,516.60 L1655.92,520.82 L1664.19,524.95 L1672.45,529.00 L1680.71,532.97 L1688.97,536.85 L1697.23,540.65 L1705.49,544.36 L1713.75,547.99 L1722.01,551.54 L1730.28,555.00 L1738.54,558.38 L1746.80,561.67 L1755.06,564.87 L1763.32,568.00 L1771.58,571.04 L1779.84,573.99 L1788.11,576.86 L1796.37,579.65 L1804.63,582.35 L1812.89,584.96 L1821.15,587.50 L1829.41,589.94 L1837.67,592.31 L1845.94,594.59 L1854.20,596.78 L1862.46,598.89 L1870.72,600.92 L1878.98,602.86 L1887.24,604.72 L1895.50,606.49 L1903.76,608.18" fill="none" stroke="#c02a48" stroke-width="2.1" stroke-dasharray="5 2.8"/>
<rect x="1812.2" y="43.5" width="14.8" height="14.4" fill="url(#gSq)"/>
<circle cx="1819.3" cy="90.3" r="7.7" fill="url(#gCi)" stroke="#b4466e" stroke-width="1.2"/>
<text x="1862" y="61.1" font-size="33" font-family="Liberation Serif, Times New Roman, serif" font-weight="bold" font-style="italic">Scailling</text>
<text x="1864.3" y="100.9" font-size="33" font-family="Liberation Serif, Times New Roman, serif" font-weight="bold" font-style="italic">Void</text>
<rect x="1212" y="32" width="92" height="82.5" fill="#fff"/>
<text x="1219.5" y="87.6" font-size="64" font-family="Liberation Serif, Times New Roman, serif" font-weight="bold">(b)</text>
<rect x="1204.5" y="20.4" width="792.5" height="665.3000000000001" stroke="#000" stroke-width="2.6" fill="none"/>
<line x1="1191.50" y1="685.70" x2="1204.5" y2="685.70" stroke="#000" stroke-width="2.6" fill="none"/>
<text x="1184.5" y="695.70" font-size="32.5" text-anchor="end" font-family="Liberation Serif, Times New Roman, serif" font-weight="bold" font-style="italic">0</text>
<line x1="1198.00" y1="602.54" x2="1204.5" y2="602.54" stroke="#000" stroke-width="2.6" fill="none"/>
<line x1="1191.50" y1="519.38" x2="1204.5" y2="519.38" stroke="#000" stroke-width="2.6" fill="none"/>
<text x="1184.5" y="529.38" font-size="32.5" text-anchor="end" font-family="Liberation Serif, Times New Roman, serif" font-weight="bold" font-style="italic">100</text>
<line x1="1198.00" y1="436.21" x2="1204.5" y2="436.21" stroke="#000" stroke-width="2.6" fill="none"/>
<line x1="1191.50" y1="353.05" x2="1204.5" y2="353.05" stroke="#000" stroke-width="2.6" fill="none"/>
<text x="1184.5" y="363.05" font-size="32.5" text-anchor="end" font-family="Liberation Serif, Times New Roman, serif" font-weight="bold" font-style="italic">200</text>
<line x1="1198.00" y1="269.89" x2="1204.5" y2="269.89" stroke="#000" stroke-width="2.6" fill="none"/>
<line x1="1191.50" y1="186.72" x2="1204.5" y2="186.72" stroke="#000" stroke-width="2.6" fill="none"/>
<text x="1184.5" y="196.72" font-size="32.5" text-anchor="end" font-family="Liberation Serif, Times New Roman, serif" font-weight="bold" font-style="italic">300</text>
<line x1="1198.00" y1="103.56" x2="1204.5" y2="103.56" stroke="#000" stroke-width="2.6" fill="none"/>
<line x1="1191.50" y1="20.40" x2="1204.5" y2="20.40" stroke="#000" stroke-width="2.6" fill="none"/>
<text x="1184.5" y="30.40" font-size="32.5" text-anchor="end" font-family="Liberation Serif, Times New Roman, serif" font-weight="bold" font-style="italic">400</text>
<line x1="1251.12" y1="685.7" x2="1251.12" y2="698.70" stroke="#000" stroke-width="2.6" fill="none"/>
<text x="1251.12" y="731.9" font-size="32.5" text-anchor="middle" font-family="Liberation Serif, Times New Roman, serif" font-weight="bold" font-style="italic">0</text>
<line x1="1344.35" y1="685.7" x2="1344.35" y2="692.20" stroke="#000" stroke-width="2.6" fill="none"/>
<line x1="1437.59" y1="685.7" x2="1437.59" y2="698.70" stroke="#000" stroke-width="2.6" fill="none"/>
<text x="1437.59" y="731.9" font-size="32.5" text-anchor="middle" font-family="Liberation Serif, Times New Roman, serif" font-weight="bold" font-style="italic">2</text>
<line x1="1530.82" y1="685.7" x2="1530.82" y2="692.20" stroke="#000" stroke-width="2.6" fill="none"/>
<line x1="1624.06" y1="685.7" x2="1624.06" y2="698.70" stroke="#000" stroke-width="2.6" fill="none"/>
<text x="1624.06" y="731.9" font-size="32.5" text-anchor="middle" font-family="Liberation Serif, Times New Roman, serif" font-weight="bold" font-style="italic">4</text>
<line x1="1717.29" y1="685.7" x2="1717.29" y2="692.20" stroke="#000" stroke-width="2.6" fill="none"/>
<line x1="1810.53" y1="685.7" x2="1810.53" y2="698.70" stroke="#000" stroke-width="2.6" fill="none"/>
<text x="1810.53" y="731.9" font-size="32.5" text-anchor="middle" font-family="Liberation Serif, Times New Roman, serif" font-weight="bold" font-style="italic">6</text>
<line x1="1903.76" y1="685.7" x2="1903.76" y2="692.20" stroke="#000" stroke-width="2.6" fill="none"/>
<line x1="1997.00" y1="685.7" x2="1997.00" y2="698.70" stroke="#000" stroke-width="2.6" fill="none"/>
<text x="1997.00" y="731.9" font-size="32.5" text-anchor="middle" font-family="Liberation Serif, Times New Roman, serif" font-weight="bold" font-style="italic">8</text>
<text transform="translate(1114,344.5) rotate(-90)" font-size="38.5" text-anchor="middle" font-family="Liberation Serif, Times New Roman, serif" font-weight="bold" font-style="italic">Increase ratio (%)</text>
<text x="1606.2" y="775.7" font-size="38.8" text-anchor="middle" font-family="Liberation Serif, Times New Roman, serif" font-weight="bold" font-style="italic">Biochar replacement (%)</text>
</svg>
</body></html>
